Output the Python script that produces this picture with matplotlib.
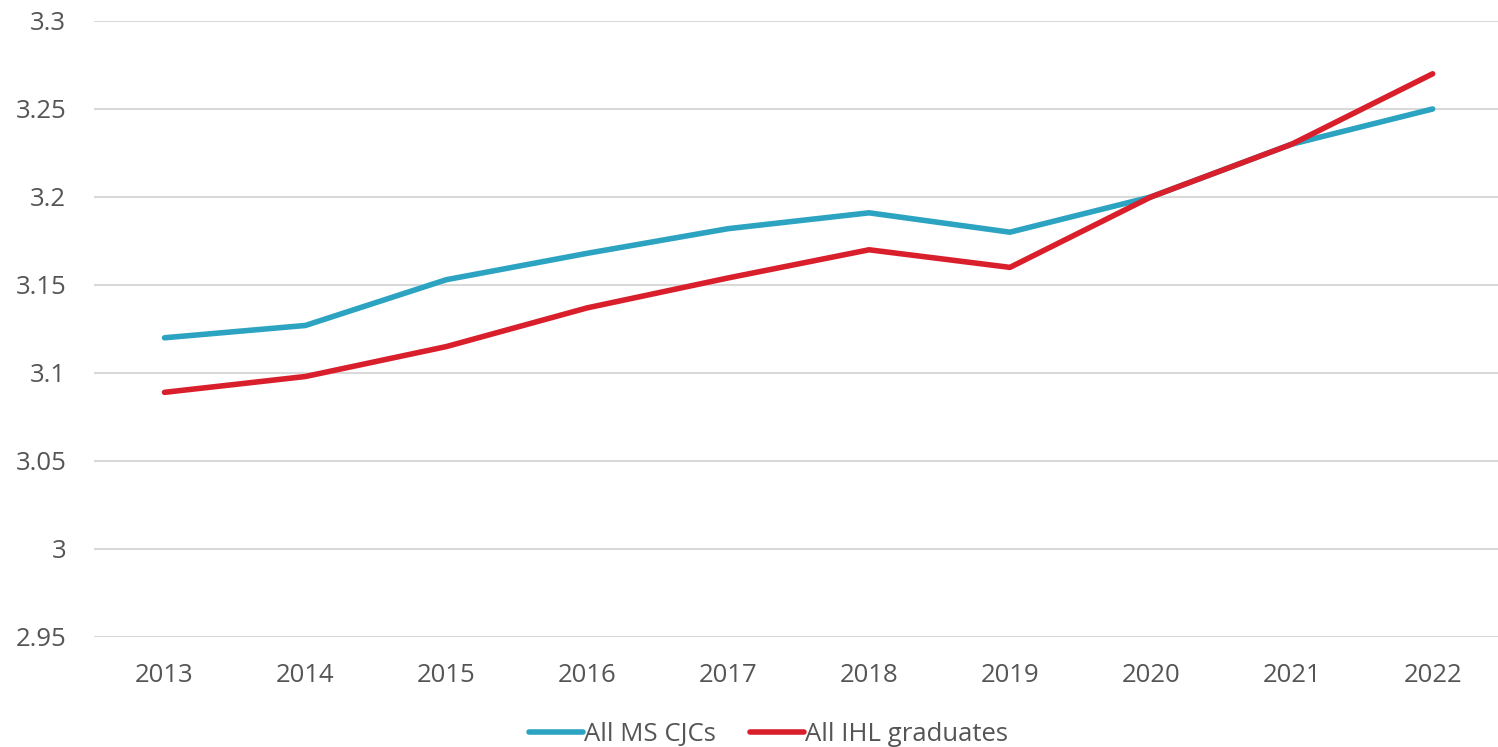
import matplotlib
matplotlib.use("Agg")
import matplotlib.pyplot as plt

years = [2013, 2014, 2015, 2016, 2017, 2018, 2019, 2020, 2021, 2022]
ms_cjcs = [3.120, 3.127, 3.153, 3.168, 3.182, 3.191, 3.180, 3.200, 3.230, 3.250]
ihl_grads = [3.089, 3.098, 3.115, 3.137, 3.154, 3.170, 3.160, 3.200, 3.230, 3.270]
yticks = [2.95, 3.0, 3.05, 3.1, 3.15, 3.2, 3.25, 3.3]
ytick_labels = ["2.95", "3", "3.05", "3.1", "3.15", "3.2", "3.25", "3.3"]

plt.rcParams['font.family'] = ['Open Sans', 'DejaVu Sans']
text_color = "#555555"

fig = plt.figure(figsize=(14.98, 7.47), dpi=100)
ax = fig.add_axes([0.0628, 0.1473, 0.9406, 0.8246])

ax.plot(years, ms_cjcs, color="#2ba3c1", lw=4, label="All MS CJCs", solid_capstyle="round")
ax.plot(years, ihl_grads, color="#d91f2c", lw=4, label="All IHL graduates", solid_capstyle="round")

ax.set_xlim(2012.5, 2022.5)
ax.set_ylim(2.95, 3.3)
ax.set_yticks(yticks)
ax.set_yticklabels(ytick_labels)
ax.set_xticks(years)
ax.set_xticklabels([str(y) for y in years])
ax.grid(axis="y", color="#d9d9d9", lw=1.5)
ax.set_axisbelow(True)
for s in ax.spines.values():
    s.set_visible(False)
ax.tick_params(axis="both", length=0, labelsize=18.5, colors=text_color)
ax.tick_params(axis="x", pad=19)
ax.tick_params(axis="y", pad=20)

leg = fig.legend(loc="lower center", bbox_to_anchor=(0.513, -0.031), ncol=2, frameon=False,
                 fontsize=18.5, handlelength=2.1, handletextpad=0.05, columnspacing=1.3)
for t in leg.get_texts():
    t.set_color(text_color)

fig.savefig("out.png", dpi=100)
